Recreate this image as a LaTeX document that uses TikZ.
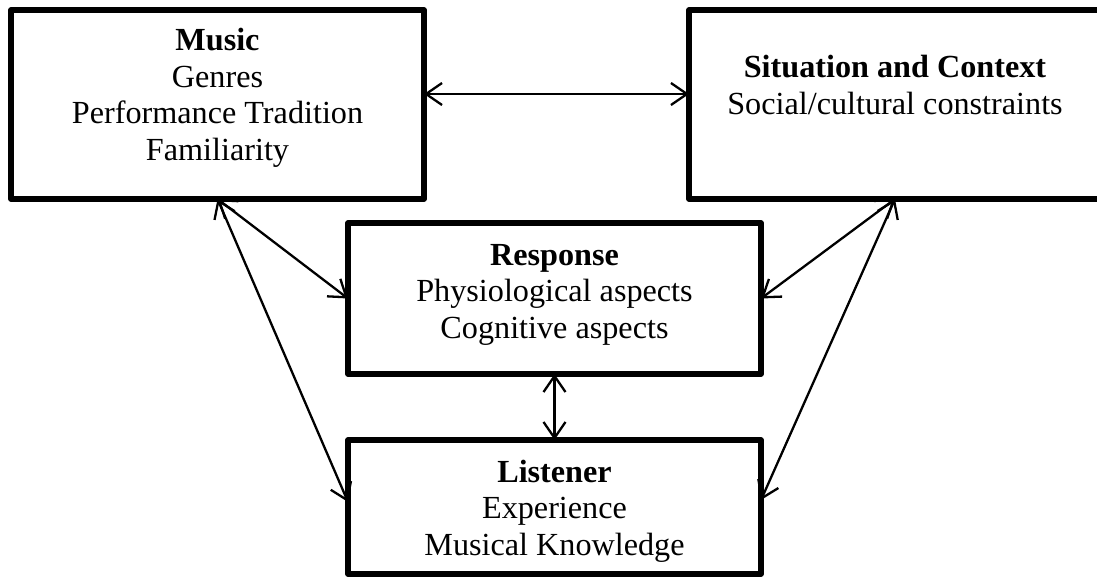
\documentclass[tikz,border=0pt]{standalone}
\usepackage{fontspec}
\setmainfont{Liberation Serif}
\usetikzlibrary{arrows.meta}
\tikzset{
  box/.style={draw=black, line width=5.5pt, line join=round, rectangle, inner sep=0pt, outer sep=0pt, fill=none},
  label text/.style={align=center, anchor=base, inner sep=0pt, font=\fontsize{32.2}{36.5}\selectfont},
  link/.style={line width=2.3pt, {Straight Barb[length=16pt,width=22pt,line width=2.3pt]}-{Straight Barb[length=16pt,width=22pt,line width=2.3pt]}}
}
\begin{document}
\begin{tikzpicture}[x=1pt,y=-1pt]
\useasboundingbox (0,0) rectangle (1097,576);
% boxes
\node[box, minimum width=413pt, minimum height=189pt] (music) at (217.5,104.5) {};
\node[box, minimum width=412pt, minimum height=189pt] (sit) at (895,104.5) {};
\node[box, minimum width=413pt, minimum height=151pt] (resp) at (554.5,298.5) {};
\node[box, minimum width=413pt, minimum height=134pt] (lis) at (554.5,507) {};
% texts (anchored at the baseline of the last line)
\node[label text] (musict) at (217.5,160) {\textbf{Music}\\Genres\\Performance Tradition\\Familiarity};
\node[label text] (sitt) at (895,114) {\textbf{Situation and Context}\\Social/cultural constraints};
\node[label text] (respt) at (554.5,338) {\textbf{Response}\\Physiological aspects\\Cognitive aspects};
\node[label text] (list) at (554.5,555) {\textbf{Listener}\\Experience\\Musical Knowledge};
% connectors
\draw[link] ([yshift=10.5pt]music.east) -- ([yshift=10.5pt]sit.west);
\draw[link] (music.south) -- (resp.west);
\draw[link] (music.south) -- ([yshift=5pt]lis.west);
\draw[link] (sit.south) -- (resp.east);
\draw[link] (sit.south) -- ([yshift=7pt]lis.east);
\draw[link] (resp.south) -- (lis.north);
\end{tikzpicture}
\end{document}
